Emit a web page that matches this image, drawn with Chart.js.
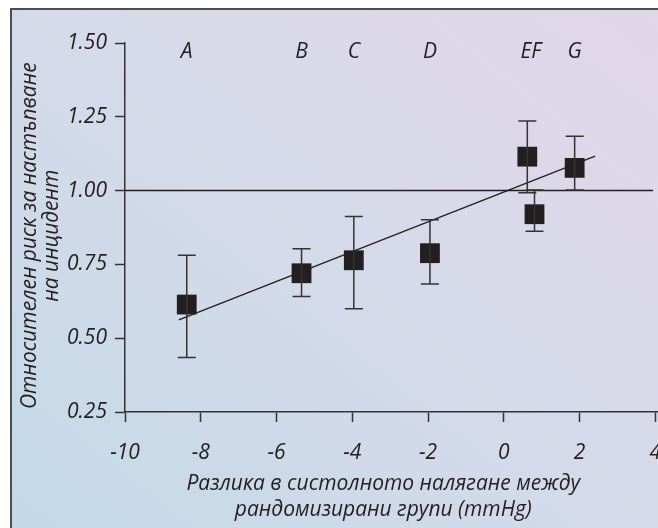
<!DOCTYPE html>
<html>
<head>
<meta charset="utf-8">
<script src="https://cdn.jsdelivr.net/npm/chart.js@4/dist/chart.umd.min.js"></script>
<style>
  html, body { margin: 0; padding: 0; background: #fff; }
  #wrap { position: relative; width: 658px; height: 528px; overflow: hidden; }
  #panel {
    position: absolute; left: 10px; top: 8px; right: -4px; bottom: -4px;
    border-left: 2px solid #4d4d4d; border-top: 2px solid #4d4d4d;
    background: linear-gradient(to top right, #c3d9e8 0%, #d5dae9 50%, #e1d6ea 100%);
  }
  #chart { position: absolute; left: 0; top: 0; }
</style>
</head>
<body>
<div id="wrap">
  <div id="panel"></div>
  <canvas id="chart" width="658" height="528"></canvas>
</div>
<script>
// studies A..G: BP difference (mmHg) vs relative risk, with 95% CI
const studyNames = ['A', 'B', 'C', 'D', 'E', 'F', 'G'];
const bpDiff = [-8.37, -5.34, -3.96, -1.95, 0.62, 0.81, 1.87];
const relRisk = [0.614, 0.72, 0.764, 0.788, 1.115, 0.92, 1.077];
const ciLow = [0.435, 0.641, 0.60, 0.684, 0.993, 0.862, 1.002];
const ciHigh = [0.781, 0.803, 0.912, 0.901, 1.236, 1.002, 1.184];

// fitted regression line and reference line at RR = 1
const fitX = [-8.58, 2.41];
const fitY = [0.562, 1.117];
const refX = [-10, 3.94];
const refY = [1, 1];

const yTicks = [0.25, 0.5, 0.75, 1.0, 1.25, 1.5];
const xTicks = [-10, -8, -6, -4, -2, 0, 2, 4];

const xTitle = ['Разлика в систолното налягане между', 'рандомизирани групи (mmHg)'];
const yTitle = ['Относителен риск за настъпване', 'на инцидент'];

const ink = '#231f20';
const fontFam = '"Open Sans", "Noto Sans", sans-serif';

// titles sit a little off the axis centre in the original
const nudge = s => s + '\u00a0\u00a0\u00a0';

const errorBars = {
  id: 'errorBars',
  afterDatasetsDraw(chart) {
    const { ctx, scales: { x, y } } = chart;
    ctx.save();
    ctx.strokeStyle = '#333';
    ctx.lineWidth = 1.5;
    bpDiff.forEach((v, i) => {
      const px = x.getPixelForValue(v);
      const top = y.getPixelForValue(ciHigh[i]);
      const bot = y.getPixelForValue(ciLow[i]);
      ctx.beginPath();
      ctx.moveTo(px, top); ctx.lineTo(px, bot);
      ctx.moveTo(px - 9, top); ctx.lineTo(px + 9, top);
      ctx.moveTo(px - 9, bot); ctx.lineTo(px + 9, bot);
      ctx.stroke();
    });
    ctx.restore();
  }
};

const studyLabels = {
  id: 'studyLabels',
  afterDraw(chart) {
    const { ctx, scales: { x, y } } = chart;
    // group studies whose points nearly overlap (E and F)
    const groups = [];
    bpDiff.forEach((v, i) => {
      const px = x.getPixelForValue(v);
      const last = groups[groups.length - 1];
      if (last && px - last.xs[last.xs.length - 1] < 15) {
        last.text += studyNames[i];
        last.xs.push(px);
      } else {
        groups.push({ text: studyNames[i], xs: [px] });
      }
    });
    ctx.save();
    ctx.font = 'italic 21px ' + fontFam;
    ctx.fillStyle = ink;
    ctx.textAlign = 'center';
    ctx.textBaseline = 'middle';
    const py = y.getPixelForValue(1.47);
    groups.forEach(g => {
      const cx = g.xs.reduce((a, b) => a + b, 0) / g.xs.length;
      ctx.fillText(g.text, cx, py);
    });
    ctx.restore();
  }
};

new Chart(document.getElementById('chart'), {
  type: 'scatter',
  data: {
    datasets: [
      {
        label: 'ref',
        type: 'line',
        data: refX.map((v, i) => ({ x: v, y: refY[i] })),
        borderColor: ink,
        borderWidth: 1.5,
        pointRadius: 0,
        order: 3
      },
      {
        label: 'fit',
        type: 'line',
        data: fitX.map((v, i) => ({ x: v, y: fitY[i] })),
        borderColor: ink,
        borderWidth: 1.3,
        pointRadius: 0,
        order: 2
      },
      {
        label: 'studies',
        data: bpDiff.map((v, i) => ({ x: v, y: relRisk[i] })),
        pointStyle: 'rect',
        pointRadius: 14,
        backgroundColor: ink,
        borderWidth: 0,
        order: 1
      }
    ]
  },
  options: {
    responsive: false,
    animation: false,
    layout: { autoPadding: false, padding: { left: 10, top: 43, right: 0, bottom: 0 } },
    plugins: { legend: { display: false }, tooltip: { enabled: false } },
    scales: {
      x: {
        type: 'linear',
        min: -10,
        max: 4.07,
        afterBuildTicks: s => { s.ticks = xTicks.map(v => ({ value: v })); },
        afterFit: s => { s.height = 116; s.paddingLeft = 0; s.paddingRight = 0; },
        grid: { drawOnChartArea: false, drawTicks: true, tickLength: 10, tickColor: '#333', tickWidth: 1.5 },
        border: { color: '#333', width: 1.5 },
        ticks: {
          color: ink,
          padding: 18,
          maxRotation: 0,
          font: { family: fontFam, size: 21, style: 'italic' }
        },
        title: {
          display: true,
          text: xTitle.map(nudge),
          color: ink,
          padding: { top: 0, bottom: 5 },
          font: { family: fontFam, size: 21, style: 'italic', lineHeight: 26 / 21 }
        }
      },
      y: {
        type: 'linear',
        min: 0.25,
        max: 1.5,
        afterBuildTicks: s => { s.ticks = yTicks.map(v => ({ value: v })); },
        afterFit: s => { s.width = 115; },
        grid: { drawOnChartArea: false, drawTicks: true, tickLength: 10, tickColor: '#333', tickWidth: 1.5 },
        border: { color: '#333', width: 1.5 },
        ticks: {
          color: ink,
          padding: 8,
          font: { family: fontFam, size: 21, style: 'italic' },
          callback: v => v.toFixed(2)
        },
        title: {
          display: true,
          text: yTitle.map(nudge),
          color: ink,
          padding: { top: 9, bottom: 0 },
          font: { family: fontFam, size: 21, style: 'italic', lineHeight: 22 / 21 }
        }
      }
    }
  },
  plugins: [errorBars, studyLabels]
});
</script>
</body>
</html>
